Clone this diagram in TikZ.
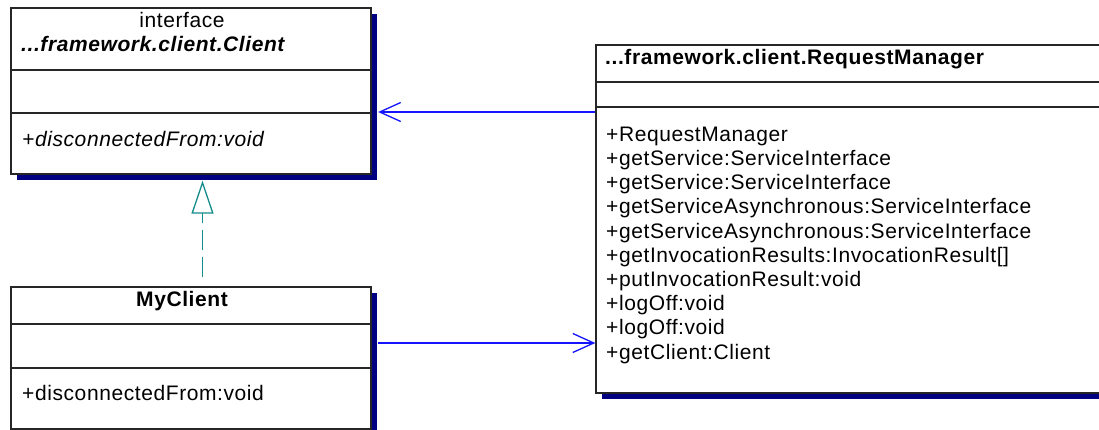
\documentclass[tikz,border=0pt]{standalone}
\usepackage{fontspec}
\setmainfont{Liberation Sans}[LetterSpace=2.8]
\usetikzlibrary{arrows.meta,shadows}
\definecolor{shadownavy}{RGB}{0,0,128}
\definecolor{assocblue}{RGB}{20,20,255}
\definecolor{realteal}{RGB}{20,140,140}
\begin{document}
\begin{tikzpicture}[x=1pt,y=-1pt,
  umlbox/.style={draw=black!85, line width=1.3pt, fill=white, inner sep=0pt,
    general shadow={shadow xshift=6pt, shadow yshift=-6pt, fill=shadownavy}},
  divider/.style={draw=black!85, line width=1.3pt},
  txt/.style={inner sep=0pt, anchor=base west, font=\fontsize{21}{24}\selectfont},
  ctxt/.style={inner sep=0pt, anchor=base, font=\fontsize{21}{24}\selectfont},
  assoc/.style={draw=assocblue, line width=1.3pt, -{Straight Barb[length=21pt,width=19pt,line width=1.3pt]}},
  real/.style={draw=realteal, line width=1.3pt, dash pattern=on 20pt off 7pt,
    -{Triangle[open,length=33pt,width=22pt,fill=white,line width=1.3pt]}}]
\useasboundingbox (0,0) rectangle (1099,430);
\clip (0,0) rectangle (1099,430);

% Client interface
\node[umlbox, minimum width=360pt, minimum height=166pt] (client) at (191,91) {};
\draw[divider] (client.west |- 0,70) -- (client.east |- 0,70);
\draw[divider] (client.west |- 0,113) -- (client.east |- 0,113);
\node[ctxt] (cst) at (182,27.7) {interface};
\node[txt] (cname) at (21,51.7) {\bfseries\itshape ...framework.client.Client};
\node[txt] (cop) at (22,146.7) {\itshape +disconnectedFrom:void};

% MyClient
\node[umlbox, minimum width=360pt, minimum height=142pt] (myclient) at (191,358) {};
\draw[divider] (myclient.west |- 0,324) -- (myclient.east |- 0,324);
\draw[divider] (myclient.west |- 0,368) -- (myclient.east |- 0,368);
\node[ctxt] (mname) at (182,306.7) {\bfseries MyClient};
\node[txt] (mop) at (22,400.7) {+disconnectedFrom:void};

% RequestManager
\node[umlbox, minimum width=530pt, minimum height=348pt] (rm) at (861,219) {};
\draw[divider] (rm.west |- 0,82) -- (rm.east |- 0,82);
\draw[divider] (rm.west |- 0,107) -- (rm.east |- 0,107);
\node[txt] (rname) at (605,65) {\bfseries ...framework.client.RequestManager};
\node[txt] (r1) at (606,141.5) {+RequestManager};
\node[txt] (r2) at (606,165.7) {+getService:ServiceInterface};
\node[txt] (r3) at (606,189.8) {+getService:ServiceInterface};
\node[txt] (r4) at (606,214.0) {+getServiceAsynchronous:ServiceInterface};
\node[txt] (r5) at (606,238.2) {+getServiceAsynchronous:ServiceInterface};
\node[txt] (r6) at (606,262.4) {+getInvocationResults:InvocationResult[]};
\node[txt] (r7) at (606,286.5) {+putInvocationResult:void};
\node[txt] (r8) at (606,310.7) {+logOff:void};
\node[txt] (r9) at (606,334.9) {+logOff:void};
\node[txt] (r10) at (606,359.0) {+getClient:Client};

% connectors
\path ([xshift=6.5pt,yshift=-21pt]client.east) coordinate (cT);
\draw[assoc] (rm.west |- cT) -- (cT);
\path ([xshift=6.5pt,yshift=15pt]myclient.east) coordinate (mT);
\draw[assoc] (mT) -- (rm.west |- mT);
\path ([xshift=11.5pt,yshift=9pt]myclient.north) coordinate (rS);
\path ([xshift=11.5pt,yshift=-6pt]client.south) coordinate (rE);
\draw[real] (rS) -- (rE);
\end{tikzpicture}
\end{document}
